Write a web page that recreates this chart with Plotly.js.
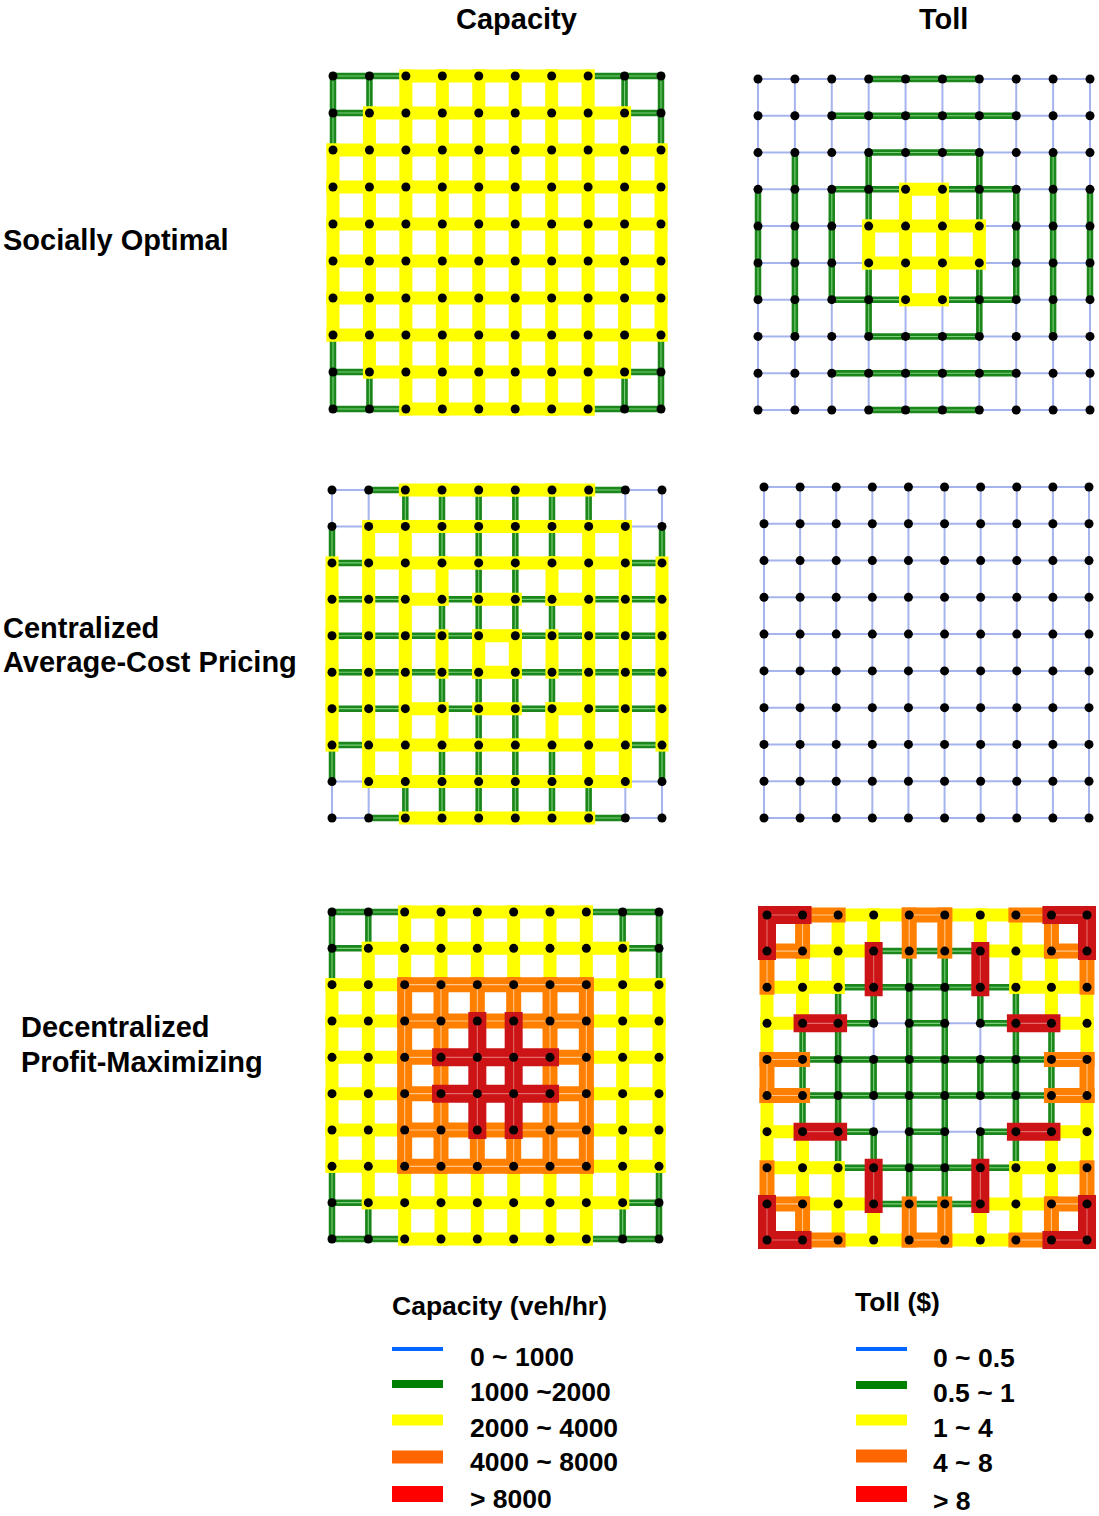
<!DOCTYPE html>
<html><head><meta charset="utf-8">
<script src="https://cdn.plot.ly/plotly-3.0.1.min.js"></script>
<style>
html,body{margin:0;padding:0;background:#fff;}
#chart{width:1099px;height:1516px;}
path.js-line{stroke-linecap:square;}
</style>
</head><body><div id="chart"></div>
<script>
// Link classes: 0 = lowest bin ... 4 = highest bin
const capacityBins = ["0 ~ 1000", "1000 ~2000", "2000 ~ 4000", "4000 ~ 8000", "> 8000"];
const tollBins = ["0 ~ 0.5", "0.5 ~ 1", "1 ~ 4", "4 ~ 8", "> 8"];
const columnTitles = ["Capacity", "Toll"];
const rowLabels = [["Socially Optimal"], ["Centralized", "Average-Cost Pricing"], ["Decentralized", "Profit-Maximizing"]];

// Horizontal links: 10 node rows (top to bottom) x 9 links (left to right)
// Vertical links: 9 link rows (top to bottom) x 10 node columns
const soCapH = ["112222211","122222221","222222222","222222222","222222222","222222222","222222222","222222222","122222221","112222211"];
const soCapV = ["1122222211","1222222221","2222222222","2222222222","2222222222","2222222222","2222222222","1222222221","1122222211"];

const soTollH = ["000111000","001111100","000111000","001121100","000222000","000222000","001121100","000111000","001111100","000111000"];
const soTollV = ["0000000000","0000000000","0101001010","1111221111","1112222111","1111221111","0101001010","0000000000","0000000000"];

const acpCapH = ["012222210","022222220","122222221","112121211","111121111","111121111","112121211","122222221","022222220","012222210"];
const acpCapV = ["0011111100","1221111221","2222112222","2221111222","2222222222","2221111222","2222112222","1221111221","0011111100"];

const acpTollH = ["000000000","000000000","000000000","000000000","000000000","000000000","000000000","000000000","000000000","000000000"];
const acpTollV = ["0000000000","0000000000","0000000000","0000000000","0000000000","0000000000","0000000000","0000000000","0000000000"];

const dpmCapH = ["112222211","122222221","223333322","223333322","223444322","223444322","223333322","223333322","122222221","112222211"];
const dpmCapV = ["1122222211","1222222221","2233333322","2233443322","2233443322","2233443322","2233333322","1222222221","1122222211"];

const dpmTollH = ["432232234","322111223","221111122","241010142","311111113","311111113","241010142","221111122","322111223","432232234"];
const dpmTollV = ["4322332234","3224114223","2211111122","2110110112","3111111113","2110110112","2211111122","3224114223","4322332234"];

// ---- styling ----
const W = 1099, H = 1516;
const netColors = ["#a6b4ee", "#1b861b", "#ffff00", "#ff8000", "#cc1416"];
const netWidths = [2, 6.5, 13, 15, 18];
const hiColors = [null, "#79cf79", null, "#ffc58a", "#e56a6a"];
const legColors = ["#0066ff", "#008000", "#ffff00", "#ff6600", "#ff0000"];
const legWidths = [4, 8, 11, 13, 16];

const panels = [
  {h: soCapH,  v: soCapV,  box: [333, 661, 76, 409]},
  {h: soTollH, v: soTollV, box: [758, 1090, 79, 410]},
  {h: acpCapH, v: acpCapV, box: [332, 662, 490, 818]},
  {h: acpTollH, v: acpTollV, box: [764, 1089, 487, 818]},
  {h: dpmCapH, v: dpmCapV, box: [332, 659, 912, 1239]},
  {h: dpmTollH, v: dpmTollV, box: [767, 1087, 915, 1240]}
];

const traces = [];
const layout = {
  width: W, height: H, margin: {l: 0, r: 0, t: 0, b: 0},
  paper_bgcolor: "#fff", plot_bgcolor: "rgba(0,0,0,0)",
  showlegend: false, annotations: [], shapes: []
};
const FONT = "Liberation Sans, Arial, Helvetica, sans-serif";
const pad = 10;

panels.forEach((p, k) => {
  const sx = k === 0 ? "" : String(k + 1);
  const [x0, x1, y0, y1] = p.box;
  const dx = (x1 - x0) / 9, dy = (y1 - y0) / 9;
  const dl = Math.max(0, x0 - pad) / W, dr = Math.min(W, x1 + pad) / W;
  const rx0 = -(x0 - Math.max(0, x0 - pad)) / dx, rx1 = 9 + (Math.min(W, x1 + pad) - x1) / dx;
  layout["xaxis" + sx] = {domain: [dl, dr], range: [rx0, rx1], visible: false, fixedrange: true, anchor: "y" + sx};
  layout["yaxis" + sx] = {domain: [1 - (y1 + pad) / H, 1 - (y0 - pad) / H], range: [9 + pad / dy, -pad / dy], visible: false, fixedrange: true, anchor: "x" + sx};
  for (let cls = 0; cls < 5; cls++) {
    const xs = [], ys = [];
    for (let j = 0; j < 10; j++) for (let i = 0; i < 9; i++) {
      if (+p.h[j][i] === cls) { xs.push(i, i + 1, null); ys.push(j, j, null); }
    }
    for (let j = 0; j < 9; j++) for (let i = 0; i < 10; i++) {
      if (+p.v[j][i] === cls) { xs.push(i, i, null); ys.push(j, j + 1, null); }
    }
    if (!xs.length) continue;
    traces.push({type: "scatter", mode: "lines", x: xs, y: ys, xaxis: "x" + sx, yaxis: "y" + sx,
      line: {color: netColors[cls], width: netWidths[cls]}, hoverinfo: "skip"});
    if (hiColors[cls]) {
      traces.push({type: "scatter", mode: "lines", x: xs, y: ys, xaxis: "x" + sx, yaxis: "y" + sx,
        line: {color: hiColors[cls], width: 1.1}, hoverinfo: "skip"});
    }
  }
  const nx = [], ny = [];
  for (let j = 0; j < 10; j++) for (let i = 0; i < 10; i++) { nx.push(i); ny.push(j); }
  traces.push({type: "scatter", mode: "markers", x: nx, y: ny, xaxis: "x" + sx, yaxis: "y" + sx,
    marker: {color: "#000", size: 9}, hoverinfo: "skip"});
});

function ann(text, xpx, ypx, size, xanchor) {
  layout.annotations.push({text: "<b>" + text + "</b>", xref: "paper", yref: "paper",
    x: xpx / W, y: 1 - ypx / H, xanchor: xanchor || "left", yanchor: "middle",
    showarrow: false, font: {family: FONT, size: size, color: "#000"}});
}
ann(columnTitles[0], 516, 19, 29, "center");
ann(columnTitles[1], 943, 19, 29, "center");
ann(rowLabels[0][0], 1, 240, 29);
ann(rowLabels[1][0], 1, 628, 29);
ann(rowLabels[1][1], 1, 662, 29);
ann(rowLabels[2][0], 19, 1027, 29);
ann(rowLabels[2][1], 19, 1062, 29);

// legends
ann("Capacity (veh/hr)", 390, 1306, 26.5);
ann("Toll ($)", 853, 1302, 26.5);
const capLineY = [1349, 1384, 1420, 1457, 1494];
const capTextY = [1357, 1392, 1428, 1462, 1499];
const tollLineY = [1349, 1385, 1420, 1456, 1494];
const tollTextY = [1358, 1393, 1428, 1463, 1501];
for (let c = 0; c < 5; c++) {
  layout.shapes.push({type: "line", xref: "paper", yref: "paper", x0: 392 / W, x1: 443 / W,
    y0: 1 - capLineY[c] / H, y1: 1 - capLineY[c] / H, line: {color: legColors[c], width: legWidths[c]}});
  layout.shapes.push({type: "line", xref: "paper", yref: "paper", x0: 856 / W, x1: 907 / W,
    y0: 1 - tollLineY[c] / H, y1: 1 - tollLineY[c] / H, line: {color: legColors[c], width: legWidths[c]}});
  ann(capacityBins[c], 468, capTextY[c], 26.5);
  ann(tollBins[c], 931, tollTextY[c], 26.5);
}

Plotly.newPlot("chart", traces, layout, {staticPlot: true, displayModeBar: false});
</script>
</body></html>
